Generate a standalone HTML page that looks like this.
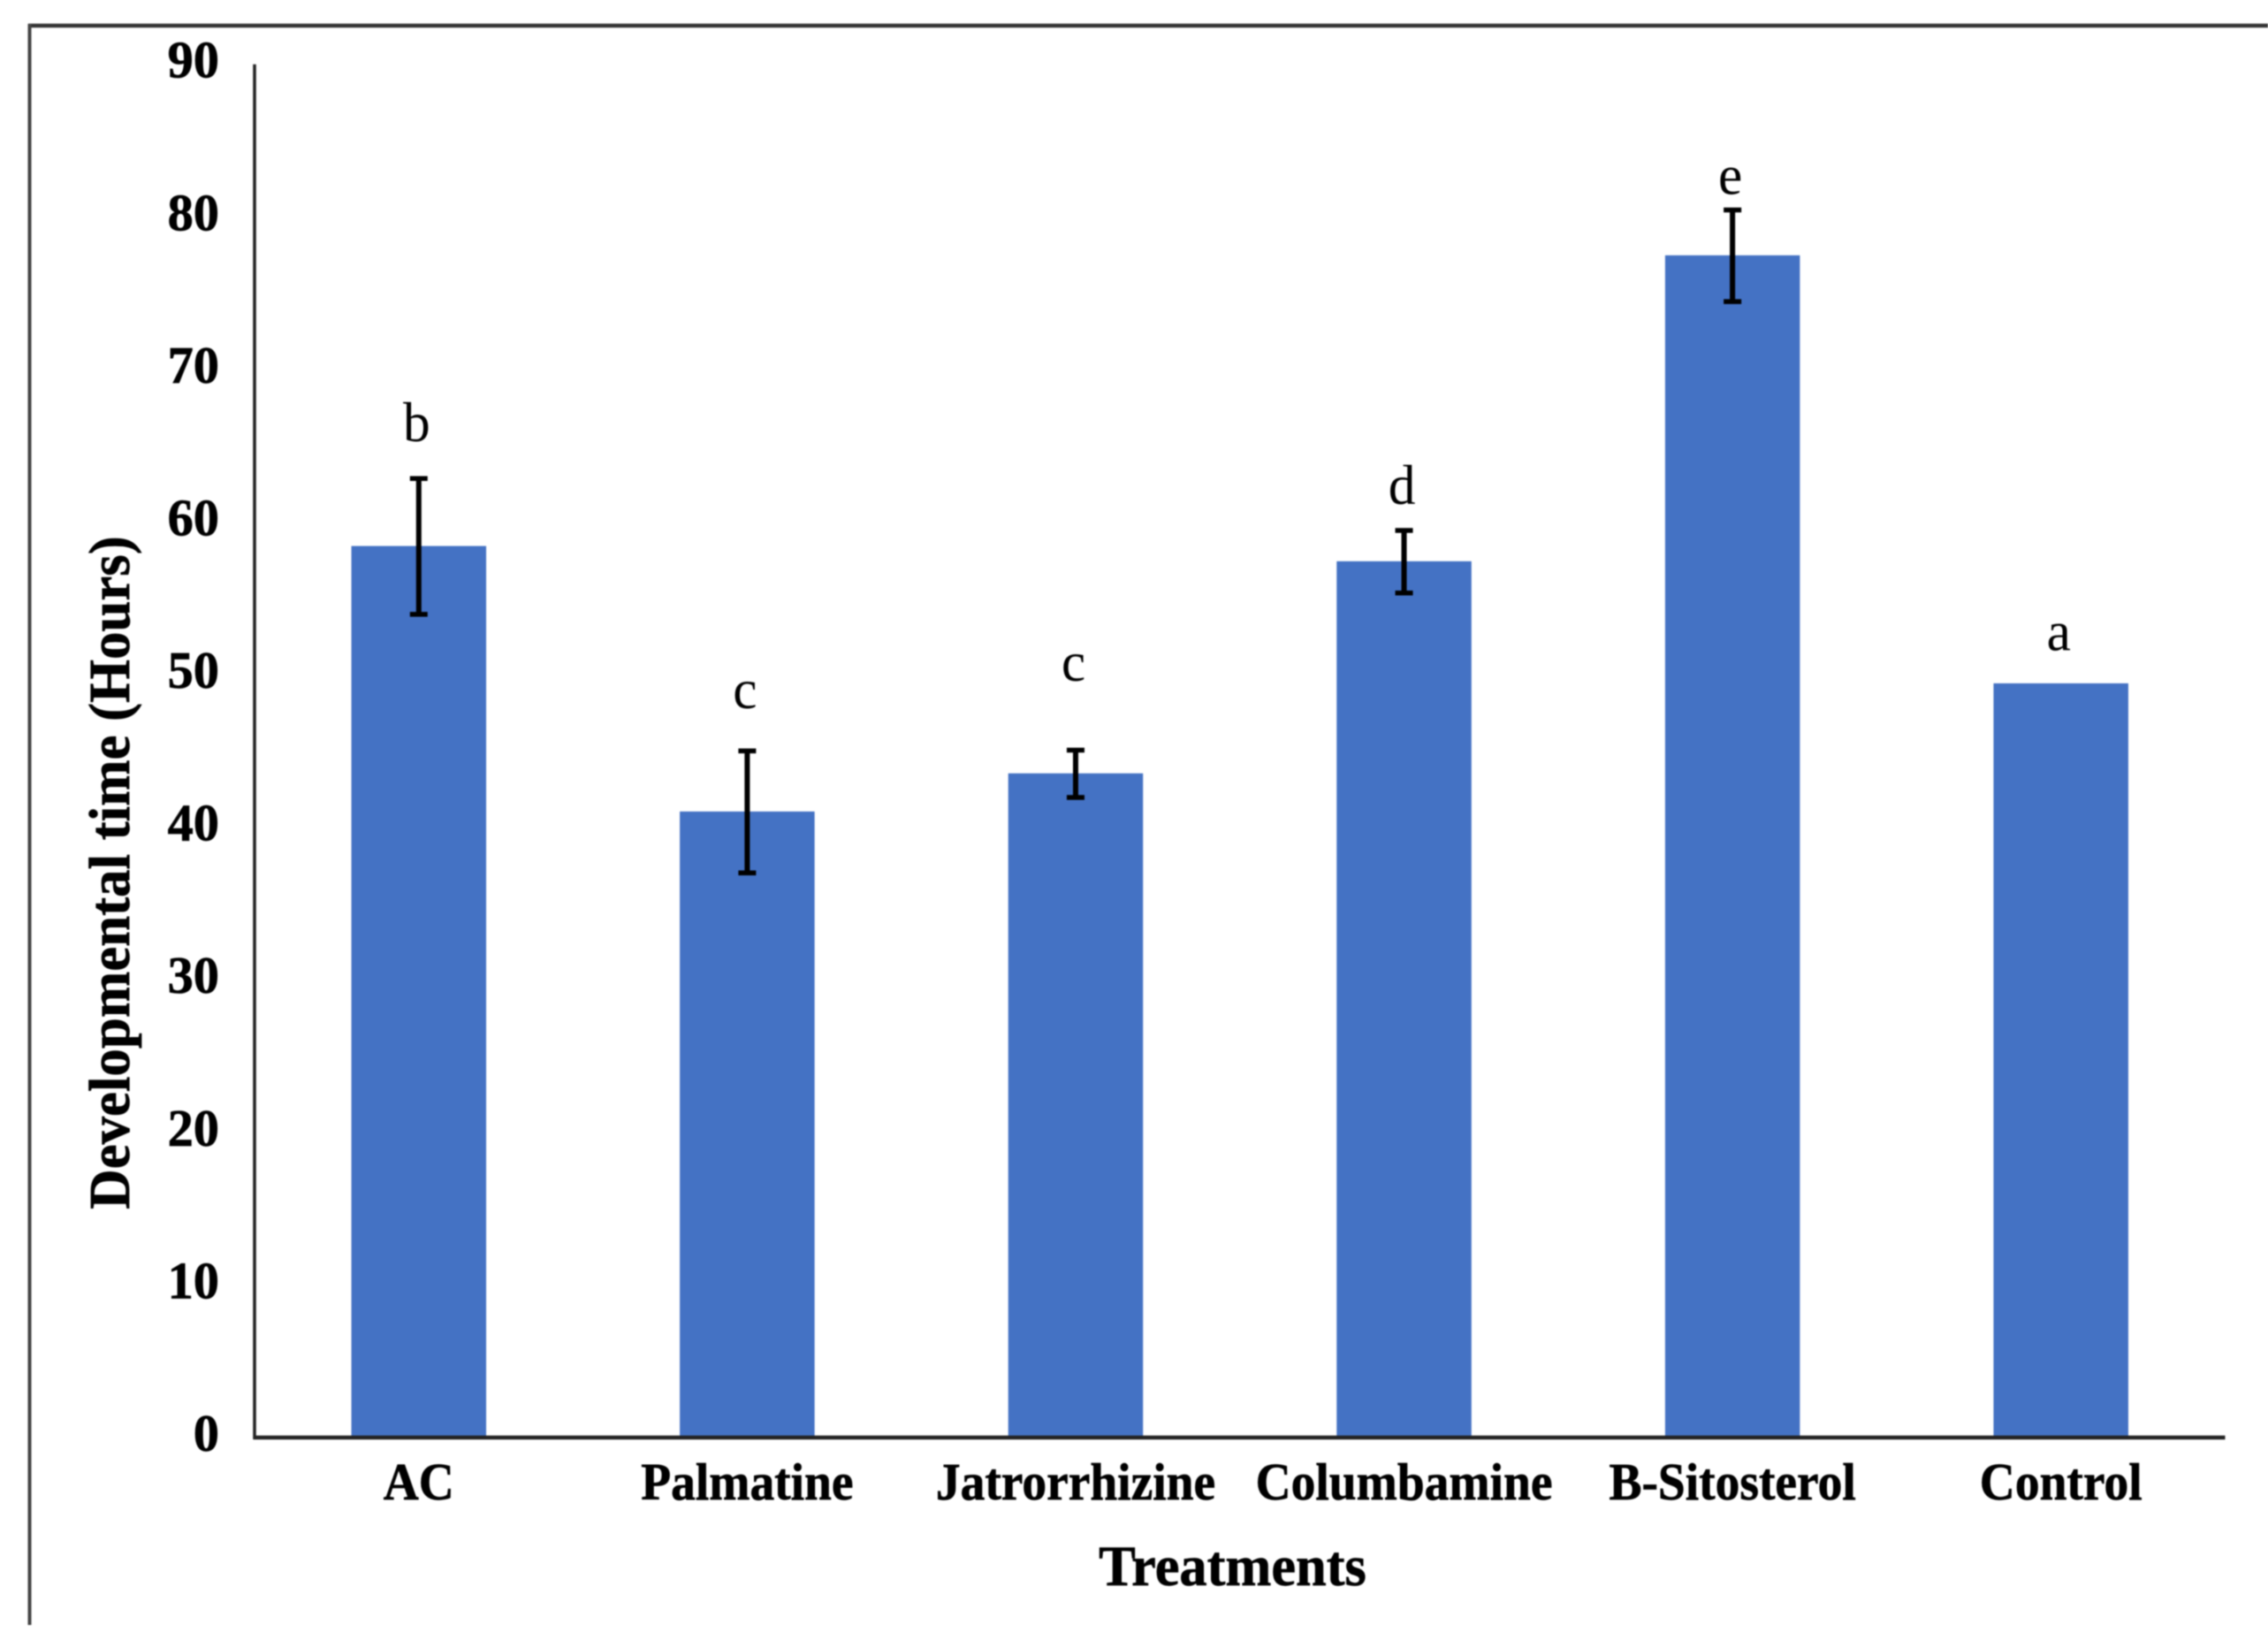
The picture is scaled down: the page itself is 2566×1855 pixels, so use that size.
<!DOCTYPE html>
<html lang="en">
<head>
<meta charset="utf-8">
<title>Developmental time by treatment</title>
<style>
  html, body { margin: 0; padding: 0; background: #ffffff; }
  body { width: 2566px; height: 1855px; overflow: hidden; }
  svg { display: block; filter: blur(0.7px); }
  text { font-family: "Liberation Serif", serif; fill: #000; }
  text.heavy { stroke: #000; stroke-width: 0.7px; }
</style>
</head>
<body>
<svg id="chart" xmlns="http://www.w3.org/2000/svg" width="2566" height="1855" viewBox="0 0 2566 1855">
  <rect x="0" y="0" width="2566" height="1855" fill="#ffffff"/>
  <line x1="32" y1="29" x2="2566" y2="29" stroke="#333" stroke-width="4.5"/>
  <line x1="33.5" y1="27" x2="33.5" y2="1838" stroke="#444" stroke-width="4"/>
</svg>
<script>
const categories = ["AC", "Palmatine", "Jatrorrhizine", "Columbamine", "B-Sitosterol", "Control"];
const values = [58.4, 41.0, 43.5, 57.4, 77.45, 49.4];
const errors = [4.45, 4.0, 1.55, 2.05, 3.0, 0];
const letters = ["b", "c", "c", "d", "e", "a"];
const letterLevels = [65.3, 47.8, 49.6, 61.2, 81.5, 51.6];
const yTicks = [0, 10, 20, 30, 40, 50, 60, 70, 80, 90];

const svg = document.getElementById('chart');
const NS = 'http://www.w3.org/2000/svg';
const plotLeft = 288, plotRight = 2517.5, plotBottom = 1626, plotTop = 72.7;
const yMax = 90;
const barWidth = 152.5;

function xScale(i) {
  return plotLeft + (plotRight - plotLeft) / categories.length * (i + 0.5);
}
function yScale(v) {
  return plotBottom - (plotBottom - plotTop) * v / yMax;
}
function make(tag, attrs) {
  const el = document.createElementNS(NS, tag);
  for (const k in attrs) el.setAttribute(k, attrs[k]);
  svg.appendChild(el);
  return el;
}

categories.forEach(function (name, i) {
  const cx = xScale(i);
  const top = yScale(values[i]);
  const bar = make('rect', { x: cx - barWidth / 2, y: top - 0.5, width: barWidth, height: plotBottom - top + 0.5, fill: '#4472C4' });
  
  
});

const yAxis = make('line', { x1: plotLeft, y1: plotTop, x2: plotLeft, y2: plotBottom + 2, stroke: '#222', 'stroke-width': 3.5 });


const xAxis = make('line', { x1: plotLeft - 1.5, y1: plotBottom, x2: plotRight, y2: plotBottom, stroke: '#222', 'stroke-width': 4.5 });



categories.forEach(function (name, i) {
  const cx = xScale(i);
  if (errors[i] > 0) {
    const hi = yScale(values[i] + errors[i]);
    const lo = yScale(values[i] - errors[i]);
    const stem = make('line', { x1: cx, y1: hi, x2: cx, y2: lo, stroke: '#000', 'stroke-width': 6 });
    
    
    const capHi = make('line', { x1: cx - 10, y1: hi, x2: cx + 10, y2: hi, stroke: '#000', 'stroke-width': 5.5 });
    
    
    const capLo = make('line', { x1: cx - 10, y1: lo, x2: cx + 10, y2: lo, stroke: '#000', 'stroke-width': 5.5 });
    
    
  }
  const letter = make('text', { 'font-size': 64, 'text-anchor': 'middle', transform: 'translate(' + (cx - 2.5) + ',' + yScale(letterLevels[i]) + ') scale(0.96,1)' });
  letter.textContent = letters[i];
  
  

  const label = make('text', { class: 'heavy', 'font-size': 59, 'font-weight': 'bold', 'text-anchor': 'middle', transform: 'translate(' + cx + ',1696) scale(0.94,1)' });
  label.textContent = name;
  
  
});

yTicks.forEach(function (t) {
  const tick = make('text', { class: 'heavy', 'font-size': 59, 'font-weight': 'bold', 'text-anchor': 'end', transform: 'translate(248,' + (yScale(t) + 15) + ') scale(0.99,1)' });
  tick.textContent = String(t);
  
  
});

const xTitle = make('text', { class: 'heavy', 'font-size': 65, 'font-weight': 'bold', 'text-anchor': 'middle', transform: 'translate(1394.5,1793) scale(0.96,1)' });
xTitle.textContent = 'Treatments';



const yTitle = make('text', { class: 'heavy', 'font-size': 66, 'font-weight': 'bold', 'text-anchor': 'middle', transform: 'translate(146,987) rotate(-90) scale(0.953,1)' });
yTitle.textContent = 'Developmental time (Hours)';


</script>
</body>
</html>
